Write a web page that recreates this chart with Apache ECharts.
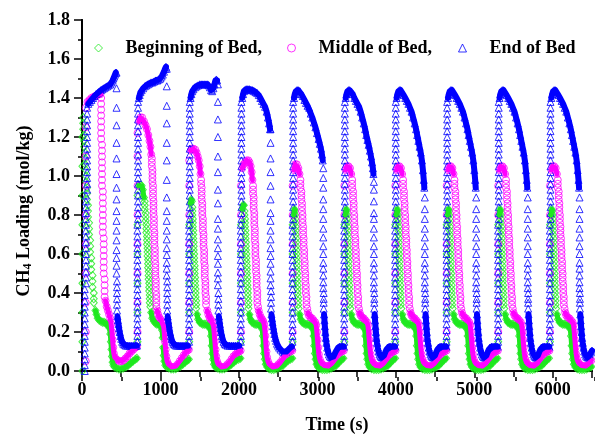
<!DOCTYPE html>
<html><head><meta charset="utf-8">
<script src="https://cdn.jsdelivr.net/npm/echarts@6/dist/echarts.min.js"></script>
<style>html,body{margin:0;padding:0;background:#fff}#c{width:595px;height:439px}</style>
</head><body><div id="c"></div>
<script>
// Tick labels
const xTickValues = [0, 1000, 2000, 3000, 4000, 5000, 6000];
const yTickValues = [0.0, 0.2, 0.4, 0.6, 0.8, 1.0, 1.2, 1.4, 1.6, 1.8];
const seriesNames = ['Beginning of Bed,', 'Middle of Bed,', 'End of Bed'];

// Readings per cycle: [time (s), loading], or [time, [loadings in a near-vertical run]]
const beginningOfBed = [
 [[5,[0,0.15,0.3,0.45,0.6,0.75,0.9,1.05,1.2]],[15,[1.3,1.27,1.24]],[27,[1.21,1.18,1.15]],[40,[1.12,1.09,1.06]],[53,[1.03,1.0,0.97]],[64,[0.94,0.91,0.88]],[76,[0.85,0.82,0.79]],[90,[0.76,0.73,0.7]],[104,[0.67,0.64,0.61]],[118,[0.58,0.55,0.52]],[134,[0.49,0.46,0.43]],[150,[0.4,0.37,0.35]],[172,0.31],[185,0.29],[200,0.27],[220,0.26],[240,0.255],[260,0.25],[280,0.25],[300,0.245],[320,0.24],[338,0.235],[350,0.22],[360,0.19],[368,0.15],[375,0.11],[382,0.075],[390,0.045],[400,0.03],[415,0.02],[440,0.015],[470,0.01],[500,0.01],[530,0.015],[560,0.02],[590,0.03],[620,0.04],[650,0.05],[680,0.06],[700,0.065]],
 [[708,[0.15,0.3,0.45,0.6,0.75,0.9]],[725,0.95],[745,0.955],[760,0.95],[775,0.93],[790,0.89],[800,[0.87,0.85,0.83]],[812,[0.81,0.79,0.77]],[820,[0.75,0.73,0.71]],[828,[0.69,0.67,0.65]],[835,[0.63,0.61,0.59]],[842,[0.57,0.55,0.53]],[849,[0.51,0.49,0.47]],[856,[0.45,0.43,0.41]],[863,[0.39,0.37,0.35]],[871,[0.33]],[882,0.3],[895,0.27],[915,0.255],[935,0.245],[955,0.24],[975,0.24],[995,0.235],[1010,0.23],[1020,0.21],[1028,0.17],[1035,0.12],[1042,0.08],[1050,0.05],[1062,0.03],[1080,0.02],[1105,0.015],[1135,0.01],[1165,0.01],[1195,0.012],[1225,0.018],[1255,0.025],[1285,0.035],[1315,0.045],[1345,0.055],[1362,0.06]],
 [[1367,[0.15,0.3,0.45,0.6,0.75]],[1384,0.86],[1392,0.88],[1400,0.87],[1407,[0.84,0.82,0.8]],[1413,[0.78,0.76,0.74]],[1418,[0.72,0.7,0.68]],[1424,[0.66,0.64,0.62]],[1430,[0.6,0.58,0.56]],[1436,[0.54,0.52,0.5]],[1442,[0.48,0.46,0.44]],[1448,[0.42,0.4,0.38]],[1455,[0.36,0.34,0.32]],[1467,0.29],[1480,0.265],[1500,0.25],[1520,0.245],[1540,0.24],[1560,0.24],[1580,0.24],[1600,0.235],[1620,0.23],[1635,0.215],[1645,0.18],[1653,0.13],[1661,0.09],[1670,0.06],[1682,0.035],[1700,0.02],[1725,0.015],[1755,0.01],[1785,0.01],[1815,0.012],[1845,0.018],[1875,0.025],[1905,0.035],[1935,0.045],[1965,0.055],[1995,0.06],[2020,0.065]],
 [[2026,[0.15,0.3,0.45,0.6,0.75]],[2043,0.83],[2053,0.85],[2063,0.85],[2071,[0.82,0.8]],[2078,[0.78,0.76,0.74]],[2084,[0.72,0.7,0.68]],[2090,[0.66,0.64,0.62]],[2096,[0.6,0.58,0.56]],[2102,[0.54,0.52,0.5]],[2108,[0.48,0.46,0.44]],[2114,[0.42,0.4,0.38]],[2121,[0.36,0.34,0.32]],[2133,0.29],[2146,0.265],[2166,0.25],[2186,0.245],[2206,0.24],[2226,0.24],[2246,0.24],[2266,0.235],[2284,0.23],[2296,0.215],[2305,0.18],[2313,0.13],[2321,0.09],[2330,0.06],[2342,0.035],[2360,0.02],[2385,0.012],[2415,0.008],[2445,0.008],[2475,0.01],[2505,0.015],[2535,0.022],[2565,0.03],[2595,0.042],[2625,0.052],[2655,0.06],[2680,0.065]],
 [[2685,[0.15,0.3,0.45,0.6,0.75]],[2700,0.8],[2707,0.83],[2714,0.82],[2719,[0.8,0.78,0.76]],[2724,[0.74,0.72,0.7]],[2729,[0.68,0.66,0.64]],[2734,[0.62,0.6,0.58]],[2739,[0.56,0.54,0.52]],[2744,[0.5,0.48,0.46]],[2749,[0.44,0.42,0.4]],[2755,[0.38,0.36,0.34]],[2762,[0.32]],[2774,0.29],[2787,0.265],[2807,0.25],[2827,0.245],[2847,0.24],[2867,0.24],[2887,0.24],[2907,0.235],[2927,0.23],[2942,0.215],[2952,0.18],[2960,0.13],[2968,0.09],[2977,0.06],[2989,0.035],[3007,0.02],[3032,0.012],[3062,0.008],[3092,0.008],[3122,0.008],[3152,0.01],[3182,0.015],[3212,0.022],[3242,0.03],[3272,0.042],[3302,0.055],[3332,0.065]],
 [[3344,[0.15,0.3,0.45,0.6,0.75]],[3359,0.8],[3366,0.83],[3373,0.82],[3378,[0.8,0.78,0.76]],[3383,[0.74,0.72,0.7]],[3388,[0.68,0.66,0.64]],[3393,[0.62,0.6,0.58]],[3398,[0.56,0.54,0.52]],[3403,[0.5,0.48,0.46]],[3408,[0.44,0.42,0.4]],[3414,[0.38,0.36,0.34]],[3421,[0.32]],[3433,0.29],[3446,0.265],[3466,0.25],[3486,0.245],[3506,0.24],[3526,0.24],[3546,0.24],[3566,0.235],[3586,0.23],[3601,0.215],[3611,0.18],[3619,0.13],[3627,0.09],[3636,0.06],[3648,0.035],[3666,0.02],[3691,0.012],[3721,0.008],[3751,0.008],[3781,0.008],[3811,0.01],[3841,0.015],[3871,0.022],[3901,0.03],[3931,0.042],[3961,0.055],[3991,0.065]],
 [[3993,[0.15,0.3,0.45,0.6,0.75]],[4008,0.8],[4015,0.83],[4022,0.82],[4027,[0.8,0.78,0.76]],[4032,[0.74,0.72,0.7]],[4037,[0.68,0.66,0.64]],[4042,[0.62,0.6,0.58]],[4047,[0.56,0.54,0.52]],[4052,[0.5,0.48,0.46]],[4057,[0.44,0.42,0.4]],[4063,[0.38,0.36,0.34]],[4070,[0.32]],[4082,0.29],[4095,0.265],[4115,0.25],[4135,0.245],[4155,0.24],[4175,0.24],[4195,0.24],[4215,0.235],[4235,0.23],[4250,0.215],[4260,0.18],[4268,0.13],[4276,0.09],[4285,0.06],[4297,0.035],[4315,0.02],[4340,0.012],[4370,0.008],[4400,0.008],[4430,0.008],[4460,0.01],[4490,0.015],[4520,0.022],[4550,0.03],[4580,0.042],[4610,0.055],[4640,0.065]],
 [[4648,[0.15,0.3,0.45,0.6,0.75]],[4663,0.8],[4670,0.83],[4677,0.82],[4682,[0.8,0.78,0.76]],[4687,[0.74,0.72,0.7]],[4692,[0.68,0.66,0.64]],[4697,[0.62,0.6,0.58]],[4702,[0.56,0.54,0.52]],[4707,[0.5,0.48,0.46]],[4712,[0.44,0.42,0.4]],[4718,[0.38,0.36,0.34]],[4725,[0.32]],[4737,0.29],[4750,0.265],[4770,0.25],[4790,0.245],[4810,0.24],[4830,0.24],[4850,0.24],[4870,0.235],[4890,0.23],[4905,0.215],[4915,0.18],[4923,0.13],[4931,0.09],[4940,0.06],[4952,0.035],[4970,0.02],[4995,0.012],[5025,0.008],[5055,0.008],[5085,0.008],[5115,0.01],[5145,0.015],[5175,0.022],[5205,0.03],[5235,0.042],[5265,0.055],[5295,0.065]],
 [[5305,[0.15,0.3,0.45,0.6,0.75]],[5320,0.8],[5327,0.83],[5334,0.82],[5339,[0.8,0.78,0.76]],[5344,[0.74,0.72,0.7]],[5349,[0.68,0.66,0.64]],[5354,[0.62,0.6,0.58]],[5359,[0.56,0.54,0.52]],[5364,[0.5,0.48,0.46]],[5369,[0.44,0.42,0.4]],[5375,[0.38,0.36,0.34]],[5382,[0.32]],[5394,0.29],[5407,0.265],[5427,0.25],[5447,0.245],[5467,0.24],[5487,0.24],[5507,0.24],[5527,0.235],[5547,0.23],[5562,0.215],[5572,0.18],[5580,0.13],[5588,0.09],[5597,0.06],[5609,0.035],[5627,0.02],[5652,0.012],[5682,0.008],[5712,0.008],[5742,0.008],[5772,0.01],[5802,0.015],[5832,0.022],[5862,0.03],[5892,0.042],[5922,0.055],[5952,0.065]],
 [[5965,[0.15,0.3,0.45,0.6,0.75]],[5980,0.8],[5987,0.83],[5994,0.82],[5999,[0.8,0.78,0.76]],[6004,[0.74,0.72,0.7]],[6009,[0.68,0.66,0.64]],[6014,[0.62,0.6,0.58]],[6019,[0.56,0.54,0.52]],[6024,[0.5,0.48,0.46]],[6029,[0.44,0.42,0.4]],[6035,[0.38,0.36,0.34]],[6042,[0.32]],[6054,0.29],[6067,0.265],[6087,0.25],[6107,0.245],[6127,0.24],[6147,0.24],[6167,0.24],[6187,0.235],[6207,0.23],[6222,0.215],[6232,0.18],[6240,0.13],[6248,0.09],[6257,0.06],[6269,0.035],[6287,0.02],[6312,0.012],[6342,0.008],[6372,0.008],[6402,0.008],[6432,0.01],[6462,0.015],[6492,0.022]]
];

const middleOfBed = [
 [[48,[0.05,0.2,0.35,0.5,0.65,0.8,0.95,1.1,1.25,1.35]],[70,1.38],[95,1.39],[120,1.4],[145,1.405],[170,1.41],[195,1.415],[218,1.42],[235,1.42],[244,[1.4,1.37,1.34,1.31,1.28,1.25,1.22,1.19]],[255,[1.16,1.13,1.1,1.07,1.04,1.01,0.98,0.95]],[266,[0.92,0.89,0.86,0.83,0.8,0.77,0.74,0.71]],[277,[0.68,0.65,0.62,0.59,0.56,0.53,0.5]],[288,[0.47,0.44,0.41,0.38]],[300,0.36],[315,0.33],[330,0.31],[345,0.29],[360,0.27],[372,0.24],[382,0.2],[390,0.16],[398,0.12],[406,0.09],[418,0.07],[435,0.06],[455,0.055],[480,0.05],[505,0.05],[530,0.055],[555,0.065],[580,0.075],[605,0.09],[630,0.1],[655,0.11],[680,0.12],[700,0.125]],
 [[708,[0.2,0.35,0.5,0.65,0.8,0.95,1.1,1.22]],[725,1.28],[745,1.3],[766,1.3],[790,1.28],[810,1.26],[828,1.24],[845,1.21],[860,1.18],[872,1.15],[882,1.11],[890,[1.09,1.07,1.05]],[898,[1.03,1.01,0.99,0.97]],[905,[0.95,0.93,0.91,0.89]],[911,[0.87,0.85,0.83,0.81]],[917,[0.79,0.77,0.75,0.73]],[923,[0.71,0.69,0.67,0.65]],[929,[0.63,0.61,0.59,0.57]],[935,[0.55,0.53,0.51,0.49]],[941,[0.47,0.45,0.43,0.41]],[947,[0.39,0.37,0.35,0.33]],[960,0.31],[970,0.29],[985,0.275],[1000,0.265],[1015,0.255],[1030,0.245],[1042,0.225],[1050,0.19],[1058,0.15],[1066,0.11],[1075,0.075],[1085,0.05],[1100,0.035],[1120,0.025],[1145,0.02],[1170,0.02],[1195,0.025],[1220,0.035],[1245,0.05],[1270,0.065],[1295,0.08],[1320,0.095],[1345,0.105],[1362,0.11]],
 [[1367,[0.2,0.35,0.5,0.65,0.8,0.95,1.08]],[1385,1.13],[1400,1.14],[1420,1.14],[1443,1.135],[1460,1.12],[1475,1.1],[1488,1.08],[1500,1.05],[1510,1.01],[1518,[0.98,0.96]],[1525,[0.94,0.92,0.9,0.88]],[1533,[0.86,0.84,0.82,0.8]],[1541,[0.78,0.76,0.74,0.72]],[1549,[0.7,0.68,0.66,0.64]],[1557,[0.62,0.6,0.58,0.56]],[1565,[0.54,0.52,0.5,0.48]],[1573,[0.46,0.44,0.42,0.4]],[1581,[0.38,0.36,0.34]],[1597,0.31],[1610,0.29],[1625,0.275],[1640,0.265],[1655,0.255],[1668,0.245],[1678,0.225],[1686,0.19],[1694,0.15],[1702,0.11],[1711,0.075],[1721,0.05],[1735,0.035],[1755,0.025],[1780,0.02],[1805,0.02],[1830,0.025],[1855,0.035],[1880,0.045],[1905,0.06],[1930,0.075],[1955,0.085],[1980,0.095],[2005,0.1],[2022,0.105]],
 [[2026,[0.2,0.35,0.5,0.65,0.8,0.95]],[2043,1.04],[2060,1.06],[2080,1.07],[2100,1.08],[2120,1.08],[2135,1.07],[2150,1.05],[2162,1.02],[2172,0.98],[2180,[0.95,0.93,0.91]],[2188,[0.89,0.87,0.85,0.83]],[2196,[0.81,0.79,0.77,0.75]],[2203,[0.73,0.71,0.69,0.67]],[2210,[0.65,0.63,0.61,0.59]],[2218,[0.57,0.55,0.53,0.51]],[2226,[0.49,0.47,0.45,0.43]],[2234,[0.41,0.39,0.37,0.35]],[2243,[0.33]],[2252,0.31],[2265,0.29],[2280,0.275],[2295,0.265],[2310,0.255],[2322,0.24],[2330,0.215],[2337,0.18],[2344,0.14],[2351,0.1],[2359,0.07],[2370,0.05],[2385,0.035],[2405,0.025],[2430,0.02],[2455,0.02],[2480,0.025],[2505,0.035],[2530,0.045],[2555,0.06],[2580,0.075],[2605,0.085],[2630,0.095],[2655,0.1],[2680,0.105]],
 [[2685,[0.2,0.35,0.5,0.65,0.8,0.95]],[2702,1.03],[2717,1.06],[2737,1.06],[2757,1.04],[2772,1.01],[2784,[0.98,0.96,0.94]],[2796,[0.92,0.9,0.88]],[2804,[0.86,0.84,0.82]],[2811,[0.8,0.78,0.76]],[2818,[0.74,0.72,0.7]],[2825,[0.68,0.66,0.64]],[2832,[0.62,0.6,0.58]],[2839,[0.56,0.54,0.52]],[2846,[0.5,0.48,0.46]],[2853,[0.44,0.42,0.4]],[2861,[0.38,0.36,0.34]],[2870,[0.32]],[2879,0.3],[2892,0.285],[2912,0.275],[2932,0.27],[2952,0.26],[2972,0.25],[2985,0.235],[2994,0.2],[3002,0.16],[3010,0.12],[3019,0.085],[3030,0.06],[3044,0.045],[3062,0.035],[3087,0.028],[3112,0.025],[3137,0.025],[3162,0.03],[3187,0.04],[3212,0.055],[3237,0.07],[3262,0.085],[3287,0.095],[3312,0.1],[3337,0.105]],
 [[3344,[0.2,0.35,0.5,0.65,0.8,0.95]],[3361,1.03],[3376,1.05],[3396,1.05],[3416,1.04],[3431,1.01],[3443,[0.98,0.96,0.94]],[3455,[0.92,0.9,0.88]],[3463,[0.86,0.84,0.82]],[3470,[0.8,0.78,0.76]],[3477,[0.74,0.72,0.7]],[3484,[0.68,0.66,0.64]],[3491,[0.62,0.6,0.58]],[3498,[0.56,0.54,0.52]],[3505,[0.5,0.48,0.46]],[3512,[0.44,0.42,0.4]],[3520,[0.38,0.36,0.34]],[3529,[0.32]],[3538,0.3],[3551,0.285],[3571,0.275],[3591,0.27],[3611,0.26],[3631,0.25],[3644,0.235],[3653,0.2],[3661,0.16],[3669,0.12],[3678,0.085],[3689,0.06],[3703,0.045],[3721,0.035],[3746,0.028],[3771,0.025],[3796,0.025],[3821,0.03],[3846,0.04],[3871,0.055],[3896,0.07],[3921,0.085],[3946,0.095],[3971,0.1],[3996,0.105]],
 [[3993,[0.2,0.35,0.5,0.65,0.8,0.95]],[4010,1.03],[4025,1.05],[4045,1.05],[4065,1.04],[4080,1.01],[4092,[0.98,0.96,0.94]],[4104,[0.92,0.9,0.88]],[4112,[0.86,0.84,0.82]],[4119,[0.8,0.78,0.76]],[4126,[0.74,0.72,0.7]],[4133,[0.68,0.66,0.64]],[4140,[0.62,0.6,0.58]],[4147,[0.56,0.54,0.52]],[4154,[0.5,0.48,0.46]],[4161,[0.44,0.42,0.4]],[4169,[0.38,0.36,0.34]],[4178,[0.32]],[4187,0.3],[4200,0.285],[4220,0.275],[4240,0.27],[4260,0.26],[4280,0.25],[4293,0.235],[4302,0.2],[4310,0.16],[4318,0.12],[4327,0.085],[4338,0.06],[4352,0.045],[4370,0.035],[4395,0.028],[4420,0.025],[4445,0.025],[4470,0.03],[4495,0.04],[4520,0.055],[4545,0.07],[4570,0.085],[4595,0.095],[4620,0.1],[4645,0.105]],
 [[4648,[0.2,0.35,0.5,0.65,0.8,0.95]],[4665,1.03],[4680,1.05],[4700,1.05],[4720,1.04],[4735,1.01],[4747,[0.98,0.96,0.94]],[4759,[0.92,0.9,0.88]],[4767,[0.86,0.84,0.82]],[4774,[0.8,0.78,0.76]],[4781,[0.74,0.72,0.7]],[4788,[0.68,0.66,0.64]],[4795,[0.62,0.6,0.58]],[4802,[0.56,0.54,0.52]],[4809,[0.5,0.48,0.46]],[4816,[0.44,0.42,0.4]],[4824,[0.38,0.36,0.34]],[4833,[0.32]],[4842,0.3],[4855,0.285],[4875,0.275],[4895,0.27],[4915,0.26],[4935,0.25],[4948,0.235],[4957,0.2],[4965,0.16],[4973,0.12],[4982,0.085],[4993,0.06],[5007,0.045],[5025,0.035],[5050,0.028],[5075,0.025],[5100,0.025],[5125,0.03],[5150,0.04],[5175,0.055],[5200,0.07],[5225,0.085],[5250,0.095],[5275,0.1],[5300,0.105]],
 [[5305,[0.2,0.35,0.5,0.65,0.8,0.95]],[5322,1.03],[5337,1.05],[5357,1.05],[5377,1.04],[5392,1.01],[5404,[0.98,0.96,0.94]],[5416,[0.92,0.9,0.88]],[5424,[0.86,0.84,0.82]],[5431,[0.8,0.78,0.76]],[5438,[0.74,0.72,0.7]],[5445,[0.68,0.66,0.64]],[5452,[0.62,0.6,0.58]],[5459,[0.56,0.54,0.52]],[5466,[0.5,0.48,0.46]],[5473,[0.44,0.42,0.4]],[5481,[0.38,0.36,0.34]],[5490,[0.32]],[5499,0.3],[5512,0.285],[5532,0.275],[5552,0.27],[5572,0.26],[5592,0.25],[5605,0.235],[5614,0.2],[5622,0.16],[5630,0.12],[5639,0.085],[5650,0.06],[5664,0.045],[5682,0.035],[5707,0.028],[5732,0.025],[5757,0.025],[5782,0.03],[5807,0.04],[5832,0.055],[5857,0.07],[5882,0.085],[5907,0.095],[5932,0.1],[5957,0.105]],
 [[5965,[0.2,0.35,0.5,0.65,0.8,0.95]],[5982,1.03],[5997,1.05],[6017,1.05],[6037,1.04],[6052,1.01],[6064,[0.98,0.96,0.94]],[6076,[0.92,0.9,0.88]],[6084,[0.86,0.84,0.82]],[6091,[0.8,0.78,0.76]],[6098,[0.74,0.72,0.7]],[6105,[0.68,0.66,0.64]],[6112,[0.62,0.6,0.58]],[6119,[0.56,0.54,0.52]],[6126,[0.5,0.48,0.46]],[6133,[0.44,0.42,0.4]],[6141,[0.38,0.36,0.34]],[6150,[0.32]],[6159,0.3],[6172,0.285],[6192,0.275],[6212,0.27],[6232,0.26],[6252,0.25],[6265,0.235],[6274,0.2],[6282,0.16],[6290,0.12],[6299,0.085],[6310,0.06],[6324,0.045],[6342,0.035],[6367,0.028],[6392,0.025],[6417,0.025],[6442,0.03],[6467,0.04],[6492,0.055]]
];

const endOfBed = [
 [[35,[0,0.03,0.06,0.09,0.12,0.15,0.18,0.21,0.24,0.27,0.3,0.33,0.36,0.39,0.42]],[50,[0.45,0.48,0.51,0.54,0.57,0.6,0.63,0.66,0.69,0.72,0.75,0.78,0.81,0.84,0.87,0.9]],[65,[0.93,0.96,0.99,1.02,1.05,1.08,1.11,1.14,1.17,1.2,1.23,1.26,1.29,1.32,1.35]],[80,1.37],[100,1.38],[120,1.39],[140,1.4],[160,1.41],[180,1.42],[200,1.425],[220,1.43],[240,1.44],[260,1.445],[280,1.45],[300,1.455],[320,1.46],[340,1.465],[360,1.47],[375,1.48],[390,1.49],[400,1.5],[410,1.51],[420,1.52],[430,1.53],[440,[1.53,1.45,1.35,1.26,1.17,1.09,1.01,0.94,0.88,0.82,0.77,0.72,0.67,0.62,0.58,0.54,0.5]],[446,[0.46,0.43,0.4,0.37,0.34,0.31]],[452,0.28],[458,0.26],[465,0.24],[472,0.22],[480,0.2],[490,0.18],[500,0.165],[512,0.15],[525,0.14],[540,0.135],[560,0.13],[585,0.13],[610,0.13],[635,0.13],[660,0.13],[685,0.13],[700,0.13]],
 [[706,[0.15,0.18,0.21,0.24,0.27,0.3,0.33,0.36,0.39,0.42,0.45,0.48,0.51,0.54,0.57,0.6,0.63,0.66,0.69,0.72,0.75]],[714,[0.78,0.81,0.84,0.87,0.9,0.93,0.96,0.99,1.02,1.05,1.08,1.11,1.14,1.17,1.2,1.23,1.26,1.29,1.32,1.35,1.38]],[725,1.4],[735,1.415],[745,1.43],[760,1.44],[780,1.45],[800,1.46],[820,1.465],[840,1.47],[860,1.475],[880,1.48],[900,1.48],[920,1.485],[940,1.49],[960,1.49],[980,1.495],[1000,1.5],[1015,1.51],[1030,1.52],[1045,1.535],[1058,1.55],[1070,1.56],[1080,[1.55,1.46,1.36,1.27,1.17,1.08,0.98,0.89,0.82,0.77,0.72,0.675,0.63,0.595,0.555,0.525,0.49]],[1086,[0.46,0.43,0.4,0.37,0.34,0.31]],[1092,0.28],[1098,0.26],[1105,0.24],[1112,0.22],[1120,0.2],[1130,0.18],[1140,0.165],[1152,0.15],[1165,0.14],[1180,0.135],[1200,0.13],[1225,0.13],[1250,0.13],[1275,0.13],[1300,0.13],[1325,0.13],[1350,0.13]],
 [[1365,[0.15,0.18,0.21,0.24,0.27,0.3,0.33,0.36,0.39,0.42,0.45,0.48,0.51,0.54,0.57,0.6,0.63,0.66,0.69,0.72,0.75]],[1373,[0.78,0.81,0.84,0.87,0.9,0.93,0.96,0.99,1.02,1.05,1.08,1.11,1.14,1.17,1.2,1.23,1.26,1.29,1.32,1.35,1.38]],[1384,1.4],[1394,1.42],[1405,1.435],[1420,1.445],[1440,1.455],[1460,1.46],[1480,1.465],[1500,1.47],[1520,1.47],[1540,1.47],[1560,1.47],[1580,1.47],[1600,1.47],[1615,1.465],[1630,1.455],[1645,1.44],[1660,1.435],[1675,1.45],[1688,1.47],[1700,1.49],[1712,1.495],[1722,1.49],[1732,[1.47,1.38,1.29,1.2,1.1,1.02,0.93,0.86,0.78,0.73,0.675,0.63,0.59,0.55,0.505,0.475,0.44]],[1738,[0.4,0.37,0.34,0.31]],[1744,0.28],[1750,0.26],[1757,0.24],[1764,0.22],[1772,0.2],[1782,0.18],[1792,0.165],[1804,0.15],[1817,0.14],[1832,0.135],[1855,0.13],[1880,0.13],[1905,0.13],[1930,0.13],[1955,0.13],[1980,0.13],[2005,0.13]],
 [[2024,[0.15,0.18,0.21,0.24,0.27,0.3,0.33,0.36,0.39,0.42,0.45,0.48,0.51,0.54,0.57,0.6,0.63,0.66,0.69,0.72,0.75]],[2032,[0.78,0.81,0.84,0.87,0.9,0.93,0.96,0.99,1.02,1.05,1.08,1.11,1.14,1.17,1.2,1.23,1.26,1.29,1.32,1.35,1.38]],[2043,1.4],[2053,1.42],[2063,1.435],[2075,1.44],[2093,1.445],[2113,1.445],[2133,1.445],[2153,1.44],[2173,1.44],[2193,1.435],[2213,1.43],[2233,1.425],[2253,1.415],[2273,1.4],[2293,1.385],[2313,1.37],[2333,1.355],[2353,1.33],[2370,1.3],[2385,1.27],[2397,1.24],[2403,[1.24,1.17,1.09,1.02,0.95,0.88,0.81,0.77,0.72,0.675,0.63,0.59,0.55,0.51,0.475,0.44]],[2409,[0.41,0.38,0.35,0.32]],[2415,0.29],[2421,0.27],[2428,0.25],[2435,0.23],[2443,0.21],[2452,0.19],[2462,0.17],[2473,0.155],[2485,0.14],[2498,0.13],[2512,0.12],[2530,0.11],[2555,0.1],[2580,0.095],[2605,0.1],[2630,0.11],[2655,0.12],[2675,0.125]],
 [[2683,[0.15,0.18,0.21,0.24,0.27,0.3,0.33,0.36,0.39,0.42,0.45,0.48,0.51,0.54,0.57,0.6,0.63,0.66,0.69,0.72,0.75]],[2691,[0.78,0.81,0.84,0.87,0.9,0.93,0.96,0.99,1.02,1.05,1.08,1.11,1.14,1.17,1.2,1.23,1.26,1.29,1.32,1.35,1.38]],[2702,1.4],[2712,1.42],[2725,1.435],[2740,1.44],[2755,1.44],[2775,1.435],[2795,1.42],[2815,1.41],[2835,1.39],[2855,1.375],[2875,1.36],[2895,1.35],[2915,1.32],[2935,1.3],[2955,1.275],[2975,1.25],[2995,1.22],[3015,1.19],[3030,1.165],[3045,1.14],[3058,1.11],[3068,1.08],[3075,[1.04,0.99,0.94,0.88,0.83,0.78,0.73,0.685,0.64,0.6,0.555,0.525,0.49,0.455,0.425]],[3080,[0.4,0.37,0.35,0.32]],[3085,0.29],[3090,0.26],[3095,0.23],[3101,0.2],[3107,0.17],[3115,0.145],[3125,0.12],[3135,0.1],[3147,0.085],[3160,0.075],[3175,0.07],[3190,0.07],[3205,0.075],[3220,0.085],[3235,0.1],[3250,0.11],[3265,0.12],[3280,0.125],[3300,0.125],[3320,0.125],[3338,0.125]],
 [[3342,[0.15,0.18,0.21,0.24,0.27,0.3,0.33,0.36,0.39,0.42,0.45,0.48,0.51,0.54,0.57,0.6,0.63,0.66,0.69,0.72,0.75]],[3350,[0.78,0.81,0.84,0.87,0.9,0.93,0.96,0.99,1.02,1.05,1.08,1.11,1.14,1.17,1.2,1.23,1.26,1.29,1.32,1.35,1.38]],[3361,1.4],[3371,1.42],[3383,1.435],[3396,1.44],[3411,1.44],[3431,1.43],[3451,1.42],[3471,1.4],[3491,1.385],[3511,1.37],[3531,1.355],[3551,1.33],[3571,1.3],[3591,1.27],[3609,1.24],[3623,1.21],[3638,1.185],[3653,1.16],[3668,1.13],[3683,1.1],[3696,1.07],[3707,1.04],[3714,1.01],[3720,[0.97,0.93,0.87,0.81,0.78,0.73,0.685,0.64,0.6,0.555,0.525,0.49,0.455,0.425]],[3725,[0.4,0.37,0.35,0.32]],[3730,0.29],[3735,0.26],[3740,0.23],[3746,0.2],[3752,0.17],[3760,0.145],[3770,0.12],[3780,0.1],[3792,0.085],[3805,0.075],[3820,0.07],[3835,0.07],[3850,0.08],[3865,0.095],[3880,0.11],[3895,0.12],[3915,0.125],[3935,0.125],[3955,0.125],[3975,0.125],[3990,0.125]],
 [[3991,[0.15,0.18,0.21,0.24,0.27,0.3,0.33,0.36,0.39,0.42,0.45,0.48,0.51,0.54,0.57,0.6,0.63,0.66,0.69,0.72,0.75]],[3999,[0.78,0.81,0.84,0.87,0.9,0.93,0.96,0.99,1.02,1.05,1.08,1.11,1.14,1.17,1.2,1.23,1.26,1.29,1.32,1.35,1.38]],[4010,1.4],[4020,1.42],[4032,1.435],[4045,1.44],[4060,1.44],[4080,1.43],[4100,1.415],[4120,1.4],[4140,1.385],[4160,1.37],[4180,1.35],[4200,1.33],[4220,1.3],[4240,1.27],[4258,1.24],[4272,1.21],[4287,1.18],[4302,1.15],[4317,1.12],[4332,1.08],[4345,1.03],[4356,0.98],[4363,0.94],[4369,[0.89,0.83,0.78,0.73,0.685,0.64,0.6,0.555,0.525,0.49,0.455,0.425]],[4374,[0.4,0.37,0.35,0.32]],[4379,0.29],[4384,0.26],[4389,0.23],[4395,0.2],[4401,0.17],[4409,0.145],[4419,0.12],[4429,0.1],[4441,0.085],[4454,0.075],[4469,0.07],[4484,0.07],[4499,0.08],[4514,0.095],[4529,0.11],[4544,0.12],[4564,0.125],[4584,0.125],[4604,0.125],[4624,0.125],[4644,0.125]],
 [[4646,[0.15,0.18,0.21,0.24,0.27,0.3,0.33,0.36,0.39,0.42,0.45,0.48,0.51,0.54,0.57,0.6,0.63,0.66,0.69,0.72,0.75]],[4654,[0.78,0.81,0.84,0.87,0.9,0.93,0.96,0.99,1.02,1.05,1.08,1.11,1.14,1.17,1.2,1.23,1.26,1.29,1.32,1.35,1.38]],[4665,1.4],[4675,1.42],[4687,1.435],[4700,1.44],[4715,1.44],[4735,1.43],[4755,1.415],[4775,1.4],[4795,1.385],[4815,1.37],[4835,1.35],[4855,1.33],[4875,1.3],[4895,1.27],[4913,1.24],[4927,1.21],[4942,1.18],[4957,1.15],[4972,1.12],[4987,1.08],[5000,1.03],[5011,0.98],[5018,0.94],[5024,[0.89,0.83,0.78,0.73,0.685,0.64,0.6,0.555,0.525,0.49,0.455,0.425]],[5029,[0.4,0.37,0.35,0.32]],[5034,0.29],[5039,0.26],[5044,0.23],[5050,0.2],[5056,0.17],[5064,0.145],[5074,0.12],[5084,0.1],[5096,0.085],[5109,0.075],[5124,0.07],[5139,0.07],[5154,0.08],[5169,0.095],[5184,0.11],[5199,0.12],[5219,0.125],[5239,0.125],[5259,0.125],[5279,0.125],[5299,0.125]],
 [[5303,[0.15,0.18,0.21,0.24,0.27,0.3,0.33,0.36,0.39,0.42,0.45,0.48,0.51,0.54,0.57,0.6,0.63,0.66,0.69,0.72,0.75]],[5311,[0.78,0.81,0.84,0.87,0.9,0.93,0.96,0.99,1.02,1.05,1.08,1.11,1.14,1.17,1.2,1.23,1.26,1.29,1.32,1.35,1.38]],[5322,1.4],[5332,1.42],[5344,1.435],[5357,1.44],[5372,1.44],[5392,1.43],[5412,1.415],[5432,1.4],[5452,1.385],[5472,1.37],[5492,1.35],[5512,1.33],[5532,1.3],[5552,1.27],[5570,1.24],[5584,1.21],[5599,1.18],[5614,1.15],[5629,1.12],[5644,1.08],[5657,1.03],[5668,0.98],[5675,0.94],[5681,[0.89,0.83,0.78,0.73,0.685,0.64,0.6,0.555,0.525,0.49,0.455,0.425]],[5686,[0.4,0.37,0.35,0.32]],[5691,0.29],[5696,0.26],[5701,0.23],[5707,0.2],[5713,0.17],[5721,0.145],[5731,0.12],[5741,0.1],[5753,0.085],[5766,0.075],[5781,0.07],[5796,0.07],[5811,0.08],[5826,0.095],[5841,0.11],[5856,0.12],[5876,0.125],[5896,0.125],[5916,0.125],[5936,0.125],[5956,0.125]],
 [[5963,[0.15,0.18,0.21,0.24,0.27,0.3,0.33,0.36,0.39,0.42,0.45,0.48,0.51,0.54,0.57,0.6,0.63,0.66,0.69,0.72,0.75]],[5971,[0.78,0.81,0.84,0.87,0.9,0.93,0.96,0.99,1.02,1.05,1.08,1.11,1.14,1.17,1.2,1.23,1.26,1.29,1.32,1.35,1.38]],[5982,1.4],[5992,1.42],[6004,1.435],[6017,1.44],[6032,1.44],[6052,1.43],[6072,1.415],[6092,1.4],[6112,1.385],[6132,1.37],[6152,1.35],[6172,1.33],[6192,1.3],[6212,1.27],[6230,1.24],[6244,1.21],[6259,1.18],[6274,1.15],[6289,1.12],[6304,1.08],[6317,1.03],[6328,0.98],[6335,0.94],[6341,[0.89,0.83,0.78,0.73,0.685,0.64,0.6,0.555,0.525,0.49,0.455,0.425]],[6346,[0.4,0.37,0.35,0.32]],[6351,0.29],[6356,0.26],[6361,0.23],[6367,0.2],[6373,0.17],[6381,0.145],[6391,0.12],[6401,0.1],[6413,0.085],[6426,0.075],[6441,0.07],[6456,0.07],[6471,0.08],[6486,0.095],[6500,0.105]]
];

// Every reading as a marker.
function markers(cycles) {
  const out = [];
  cycles.forEach(function (cyc) {
    cyc.forEach(function (e) {
      if (Array.isArray(e[1])) { e[1].forEach(function (v) { out.push([e[0], v]); }); }
      else { out.push([e[0], e[1]]); }
    });
  });
  return out;
}
// Slowly varying stretches of single readings, where the markers overlap into a solid band.
// Runs, and steep steps between readings, break the band so those markers stay separate.
const STEEP = 0.0065; // loading change per second above which markers no longer merge
function bands(cycles) {
  const out = [];
  function brk() { if (out.length && out[out.length - 1][0] !== '-') out.push(['-', '-']); }
  cycles.forEach(function (cyc) {
    let prev = null;
    cyc.forEach(function (e) {
      if (Array.isArray(e[1])) { brk(); prev = null; return; }
      if (prev && Math.abs(e[1] - prev[1]) / Math.max(1, e[0] - prev[0]) > STEEP) brk();
      out.push([e[0], e[1]]);
      prev = e;
    });
    brk();
  });
  return out;
}

const F = '"Liberation Serif", "Times New Roman", serif';
const colors = ['#1ee81e', '#ff00ff', '#0000ff'];
const symbols = ['diamond', 'circle', 'triangle'];
const sizes = [[7, 8], 7, 7];
const bandWidths = [5, 5, 6];
const tables = [beginningOfBed, middleOfBed, endOfBed];
const gridRect = {left: 82, top: 20, width: 518, height: 357};
const blackLine = {color: '#000', width: 2};
const tickLine = {color: '#000', width: 1.5};
const labelFont = {fontFamily: F, fontWeight: 'bold', fontSize: 18, color: '#000'};

const series = [];
[0, 1, 2].forEach(function (i) {
  series.push({type: 'line', name: seriesNames[i] + ' band', xAxisIndex: 0, yAxisIndex: 0,
    data: bands(tables[i]), symbol: 'none', showSymbol: false, connectNulls: false, silent: true, clip: true,
    lineStyle: {color: colors[i], width: bandWidths[i], cap: 'round', join: 'round'}});
  series.push({type: 'scatter', name: seriesNames[i], xAxisIndex: 0, yAxisIndex: 0,
    data: markers(tables[i]), symbol: symbols[i], symbolSize: sizes[i], clip: true, silent: true,
    progressive: 0, large: false,
    itemStyle: {color: 'transparent', borderColor: colors[i], borderWidth: 1}});
});

const chart = echarts.init(document.getElementById('c'), null, {renderer: 'canvas'});
chart.setOption({
  animation: false,
  backgroundColor: '#fff',
  grid: [Object.assign({}, gridRect), Object.assign({}, gridRect)],
  xAxis: [
    {gridIndex: 0, type: 'value', position: 'bottom', min: 0, max: 6500, interval: 1000,
     axisLine: {show: true, lineStyle: blackLine}, axisTick: {show: true, inside: false, length: 7, lineStyle: tickLine},
     splitLine: {show: false},
     axisLabel: Object.assign({margin: 10, formatter: function (v) { return xTickValues.indexOf(v) >= 0 ? String(v) : ''; }}, labelFont),
     name: 'Time (s)', nameLocation: 'middle', nameGap: 45,
     nameTextStyle: {fontFamily: F, fontWeight: 'bold', fontSize: 18, color: '#000'}},
    {gridIndex: 0, type: 'value', position: 'top', min: 0, max: 6500, interval: 500,
     axisLine: {show: true, lineStyle: blackLine}, axisTick: {show: true, inside: true, length: 6, lineStyle: tickLine},
     axisLabel: {show: false}, splitLine: {show: false}},
    {gridIndex: 1, type: 'value', position: 'bottom', min: 0, max: 6500, interval: 500,
     axisLine: {show: false}, axisTick: {show: true, inside: false, length: 4, lineStyle: tickLine},
     axisLabel: {show: false}, splitLine: {show: false}}
  ],
  yAxis: [
    {gridIndex: 0, type: 'value', position: 'left', min: 0, max: 1.8, interval: 0.2,
     axisLine: {show: true, lineStyle: blackLine}, axisTick: {show: true, inside: false, length: 7, lineStyle: tickLine},
     minorTick: {show: true, splitNumber: 2, length: 4, lineStyle: tickLine},
     splitLine: {show: false}, minorSplitLine: {show: false},
     axisLabel: Object.assign({margin: 12, formatter: function (v) {
       const k = Math.round(v * 10) / 10;
       return yTickValues.some(function (t) { return Math.abs(t - k) < 1e-6; }) ? k.toFixed(1) : '';
     }}, labelFont),
     name: 'CH{sub|4} Loading (mol/kg)', nameLocation: 'middle', nameGap: 48, nameRotate: 90,
     nameTextStyle: {fontFamily: F, fontWeight: 'bold', fontSize: 18, color: '#000', lineHeight: 20, padding: [0, 31, 0, 0],
       rich: {sub: {fontFamily: F, fontWeight: 'bold', fontSize: 12, color: '#000', lineHeight: 10, verticalAlign: 'bottom'}}}},
    {gridIndex: 0, type: 'value', position: 'right', min: 0, max: 1.8, interval: 0.2,
     axisLine: {show: true, lineStyle: blackLine}, axisTick: {show: true, inside: true, length: 8, lineStyle: tickLine},
     axisLabel: {show: false}, splitLine: {show: false}},
    {gridIndex: 1, type: 'value', min: 0, max: 1.8, show: false}
  ],
  legend: [0, 1, 2].map(function (i) {
    const lefts = [94, 287, 458];
    return {data: [seriesNames[i]], left: lefts[i], top: 38, padding: 0, itemWidth: 8, itemHeight: 8,
      selectedMode: false, orient: 'horizontal',
      itemStyle: {color: 'transparent', borderColor: colors[i], borderWidth: 1},
      textStyle: {fontFamily: F, fontWeight: 'bold', fontSize: 18, color: '#000', lineHeight: 20, padding: [0, 0, 0, 18]}};
  }),
  series: series
});
</script></body></html>
